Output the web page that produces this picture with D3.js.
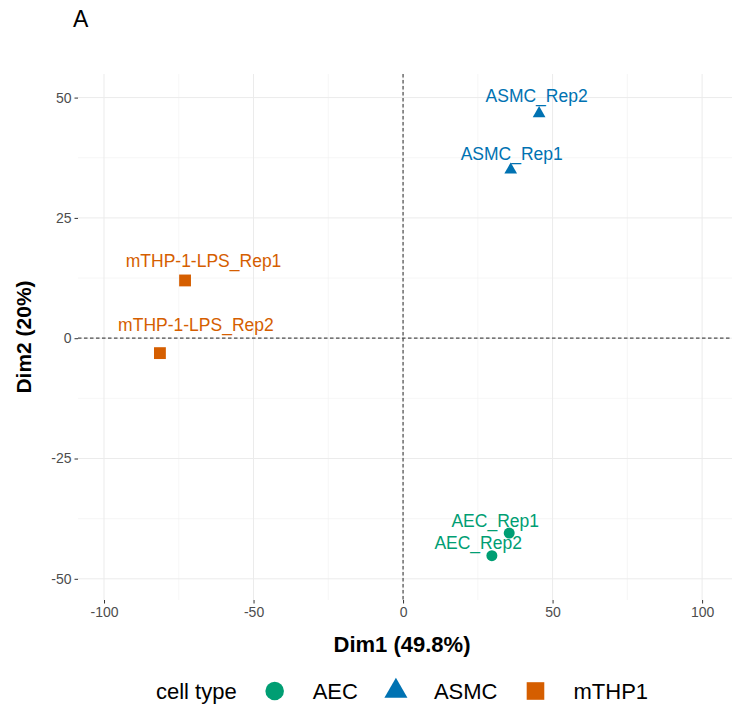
<!DOCTYPE html>
<html><head><meta charset="utf-8">
<script src="https://cdn.jsdelivr.net/npm/d3@7"></script>
<style>
body{margin:0;background:#fff;}
svg{font-family:"Liberation Sans",Arial,Helvetica,sans-serif;}
</style></head>
<body><svg id="chart" width="756" height="709"></svg>
<script>
// ---- data ----
const sampleNames = ["ASMC_Rep2","ASMC_Rep1","mTHP-1-LPS_Rep1","mTHP-1-LPS_Rep2","AEC_Rep1","AEC_Rep2"];
const cellTypes   = ["ASMC","ASMC","mTHP1","mTHP1","AEC","AEC"];
const dim1Values  = [45.5, 36.0, -72.9, -81.3, 35.5, 29.7];
const dim2Values  = [46.7, 35.0, 12.0, -3.1, -40.5, -45.2];
const legendCategories = ["AEC","ASMC","mTHP1"];
const xTicks = [-100,-50,0,50,100];
const yTicks = [-50,-25,0,25,50];
const xMinor = [-75,-25,25,75];
const yMinor = [-37.5,-12.5,12.5,37.5];

// label placement (repel-like offsets in px, relative to point)
const labelDx = [-2.5, 1, 18.5, 36, -14, -13.7];
const labelDy = [-11.5, -10, -13.3, -21.8, -6.6, -6.7];

const colors = {AEC:"#009E73", ASMC:"#0072B2", mTHP1:"#D55E00"};
const shapes = {AEC:d3.symbolCircle, ASMC:d3.symbolTriangle, mTHP1:d3.symbolSquare};

const svg = d3.select("#chart");
const panel = {left:78, right:732, top:74, bottom:600};

const x = d3.scaleLinear().domain([-108.7, 110.0]).range([panel.left, panel.right]);
const y = d3.scaleLinear().domain([-54.4, 54.9]).range([panel.bottom, panel.top]);

// gridlines
const g = svg.append("g");
g.selectAll(".xminor").data(xMinor).enter().append("line")
  .attr("x1",d=>x(d)).attr("x2",d=>x(d)).attr("y1",panel.top).attr("y2",panel.bottom)
  .attr("stroke","#F0F0F0").attr("stroke-width",0.6);
g.selectAll(".yminor").data(yMinor).enter().append("line")
  .attr("y1",d=>y(d)).attr("y2",d=>y(d)).attr("x1",panel.left).attr("x2",panel.right)
  .attr("stroke","#F0F0F0").attr("stroke-width",0.6);
g.selectAll(".xmajor").data(xTicks).enter().append("line")
  .attr("x1",d=>x(d)).attr("x2",d=>x(d)).attr("y1",panel.top).attr("y2",panel.bottom)
  .attr("stroke","#EBEBEB").attr("stroke-width",1);
g.selectAll(".ymajor").data(yTicks).enter().append("line")
  .attr("y1",d=>y(d)).attr("y2",d=>y(d)).attr("x1",panel.left).attr("x2",panel.right)
  .attr("stroke","#EBEBEB").attr("stroke-width",1);

// axes
const fmt = d=>d3.format("d")(d).replace("−","-");
const xAxis = svg.append("g").attr("transform",`translate(0,${panel.bottom})`)
  .call(d3.axisBottom(x).tickValues(xTicks).tickSize(3.5).tickPadding(4).tickFormat(fmt));
const yAxis = svg.append("g").attr("transform",`translate(${panel.left},0)`)
  .call(d3.axisLeft(y).tickValues(yTicks).tickSize(3.5).tickPadding(3).tickFormat(fmt));
[xAxis,yAxis].forEach(a=>{
  a.select(".domain").remove();
  a.selectAll(".tick line").attr("stroke","#333333").attr("stroke-width",1);
  a.selectAll(".tick text").attr("fill","#4D4D4D").style("font-size","14px")
   .style("font-family","'Liberation Sans',Arial,sans-serif");
});

// reference dashed lines
svg.append("line").attr("x1",x(0)).attr("x2",x(0)).attr("y1",panel.top).attr("y2",panel.bottom)
  .attr("stroke","#4D4D4D").attr("stroke-width",1.2).attr("stroke-dasharray","3.5,2.5");
svg.append("line").attr("y1",y(0)).attr("y2",y(0)).attr("x1",panel.left).attr("x2",panel.right)
  .attr("stroke","#4D4D4D").attr("stroke-width",1.2).attr("stroke-dasharray","3.5,2.5");

// points
const pts = sampleNames.map((n,i)=>({name:n,type:cellTypes[i],x:dim1Values[i],y:dim2Values[i],dx:labelDx[i],dy:labelDy[i]}));
const symSize = {AEC:95, ASMC:70, mTHP1:140};
svg.selectAll(".pt").data(pts).enter().append("path")
  .attr("transform",d=>`translate(${x(d.x)},${y(d.y)})`)
  .attr("d",d=>d3.symbol().type(shapes[d.type]).size(symSize[d.type])())
  .attr("fill",d=>colors[d.type]);

svg.selectAll(".lbl").data(pts).enter().append("text")
  .attr("x",d=>x(d.x)+d.dx).attr("y",d=>y(d.y)+d.dy)
  .attr("text-anchor","middle").attr("fill",d=>colors[d.type])
  .style("font-size","17.5px").text(d=>d.name);

// axis titles
svg.append("text").attr("x",(panel.left+panel.right)/2 - 3).attr("y",652)
  .attr("text-anchor","middle").style("font-size","22px").style("font-weight","bold").text("Dim1 (49.8%)");
svg.append("text").attr("transform",`translate(31,${(panel.top+panel.bottom)/2}) rotate(-90)`)
  .attr("text-anchor","middle").style("font-size","21px").style("font-weight","bold").text("Dim2 (20%)");

// panel tag
svg.append("text").attr("x",73).attr("y",27).style("font-size","23px").text("A");

// legend
const leg = svg.append("g");
const ly = 691;
const title = leg.append("text").attr("y",ly+8).style("font-size","22px").text("cell type");
let cx = 0;
title.attr("x",cx);
cx += title.node().getComputedTextLength() + 38;
const legSize = {AEC:270, ASMC:230, mTHP1:310};
legendCategories.forEach(c=>{
  leg.append("path").attr("transform",`translate(${cx},${ly})`)
    .attr("d",d3.symbol().type(shapes[c]).size(legSize[c])()).attr("fill",colors[c]);
  cx += 38;
  const t = leg.append("text").attr("x",cx).attr("y",ly+8).style("font-size","22px").text(c);
  cx += t.node().getComputedTextLength() + 38;
});
const totalW = cx - 38;
leg.attr("transform",`translate(${(panel.left+panel.right)/2 - totalW/2 - 3},0)`);
</script></body></html>
